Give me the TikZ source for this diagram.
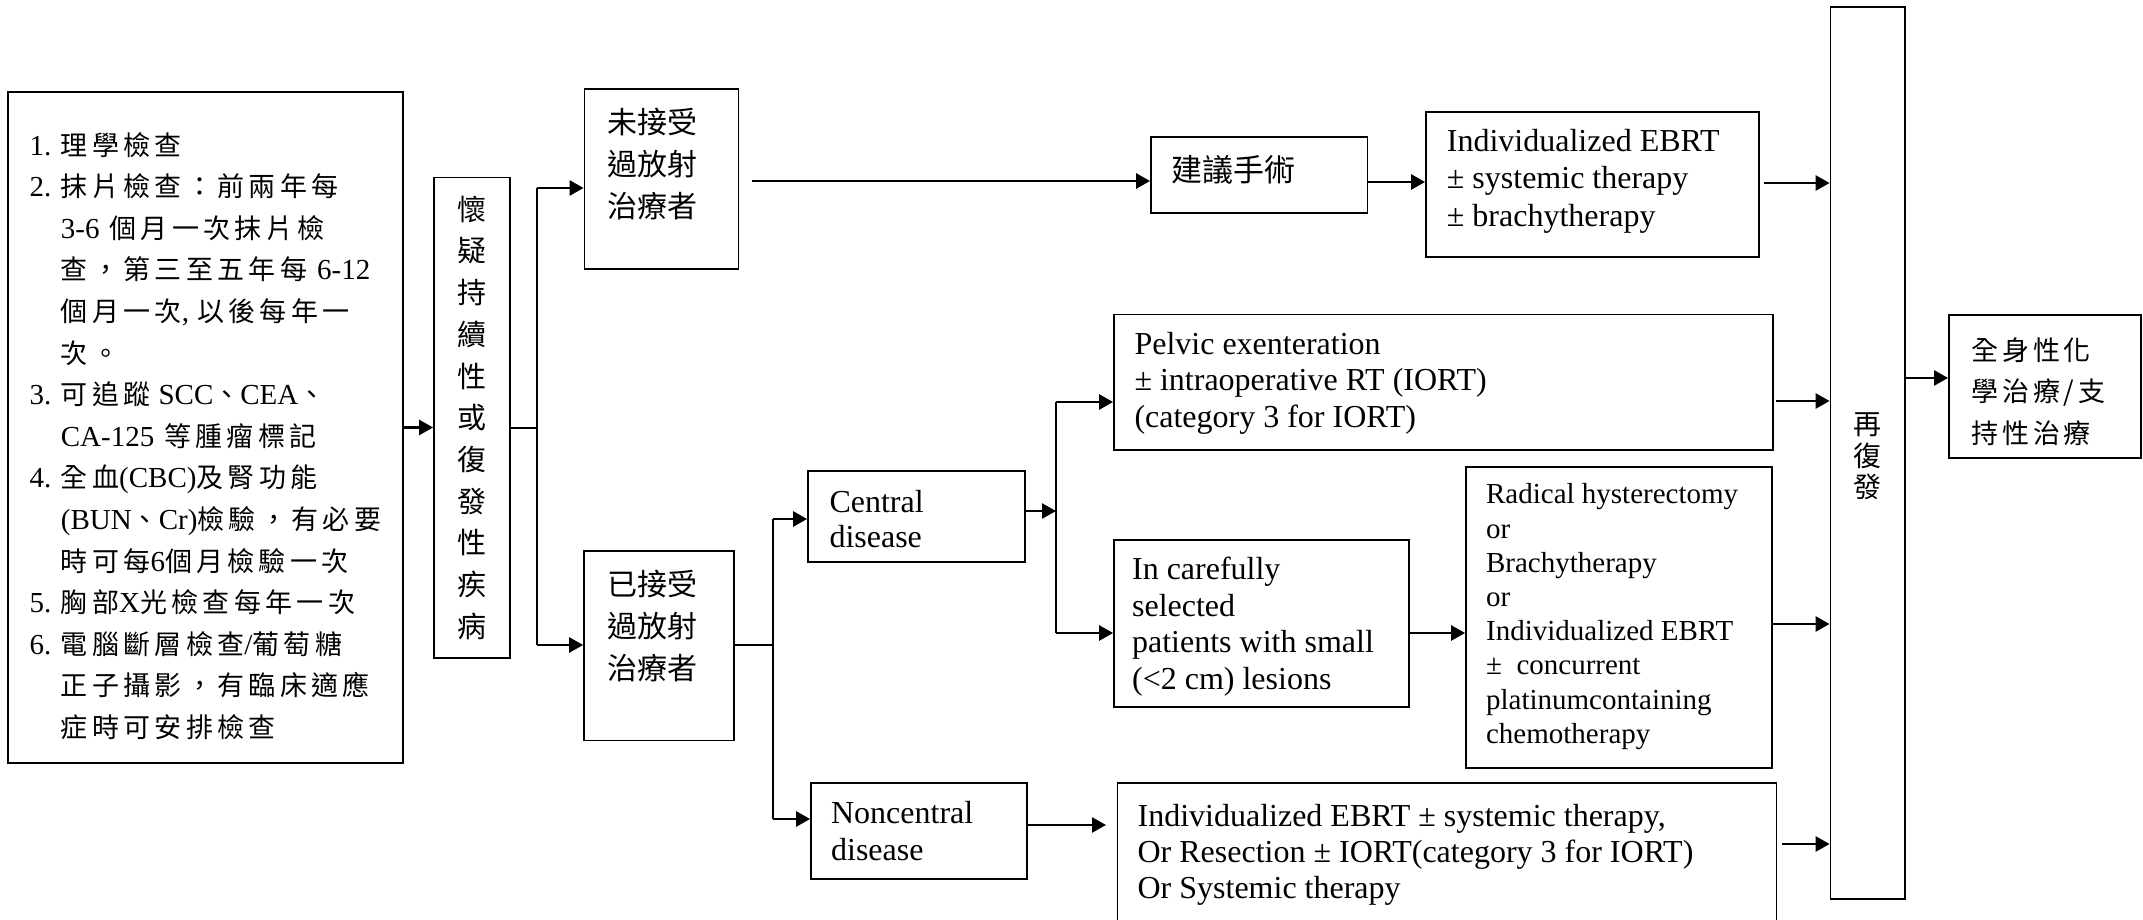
\documentclass[tikz,border=0pt]{standalone}
\usepackage{fontspec}
\setmainfont{Liberation Serif}
\newfontfamily\cjk{Noto Sans CJK TC}
\newfontfamily\cjksp{Noto Sans CJK TC}[LetterSpace=16]
\newfontfamily\cjkspb{Noto Sans CJK TC}[LetterSpace=14]
\usetikzlibrary{arrows.meta}
\newcommand\latn[1]{{\rmfamily\fontsize{14.5}{20.8}\selectfont #1}}
\newcommand\itm[1]{\makebox[15.7pt][l]{\latn{#1}}}
\newcommand\myind{\hspace*{15.7pt}}
\begin{document}
\begin{tikzpicture}[x=0.5pt,y=-0.5pt,
  box/.style={draw, line width=0.9pt, inner sep=0pt},
  txt/.style={inner sep=0pt, align=left, anchor=west},
  arr/.style={line width=1.3pt, -{Triangle[length=7pt,width=7.5pt]}},
  ln/.style={line width=0.7pt},
]
\useasboundingbox (0,0) rectangle (2143,920);
\clip (0,0) rectangle (2143,920);

% boxes
\node[box, minimum width=197.5pt, minimum height=335.5pt] (L) at (205.5,427.5) {};
\node[box, minimum width=38pt, minimum height=240.25pt] (hw) at (472,417.75) {};
\node[box, minimum width=77pt, minimum height=90pt] (un) at (661.5,179) {};
\node[box, minimum width=75pt, minimum height=94.75pt] (tr) at (659,645.75) {};
\node[box, minimum width=108.25pt, minimum height=38pt] (surg) at (1259.25,175) {};
\node[box, minimum width=166.5pt, minimum height=72.5pt] (ebrt) at (1592.5,184.5) {};
\node[box, minimum width=37.25pt, minimum height=446pt] (re) at (1867.75,453) {};
\node[box, minimum width=95.85pt, minimum height=71.35pt] (sys) at (2044.85,386.35) {};
\node[box, minimum width=108.5pt, minimum height=45.5pt] (cen) at (916.5,516.5) {};
\node[box, minimum width=108pt, minimum height=48pt] (nonc) at (919,831) {};
\node[box, minimum width=329.5pt, minimum height=67.75pt] (pel) at (1443.5,382.25) {};
\node[box, minimum width=147.5pt, minimum height=83.5pt] (care) at (1261.5,623.5) {};
\node[box, minimum width=153pt, minimum height=150.5pt] (rad) at (1619,617.5) {};
\node[box, minimum width=329.5pt, minimum height=72pt] (bot) at (1447,855) {};

% texts
\node[txt, font=\cjksp\fontsize{13.5}{20.8}\selectfont] (Lt) at ([xshift=11pt,yshift=-4.25pt]L.west) {%
\itm{1.}理學檢查\\
\itm{2.}抹片檢查：前兩年每\\
\myind\latn{3-6}\hspace{5pt}個月一次抹片檢\\
\myind 查，第三至五年每\hspace{5pt}\latn{6-12}\\
\myind 個月一次\latn{,}\hspace{4pt}以後每年一\\
\myind 次。\\
\itm{3.}可追蹤\hspace{4pt}\latn{SCC}、\latn{CEA}、\\
\myind\latn{CA-125}\hspace{5pt}等腫瘤標記\\
\itm{4.}全血\latn{(CBC)}及腎功能\\
\myind\latn{(BUN}、\latn{Cr)}檢驗，有必要\\
\myind 時可每\latn{6}個月檢驗一次\\
\itm{5.}胸部\latn{X}光檢查每年一次\\
\itm{6.}電腦斷層檢查\latn{/}葡萄糖\\
\myind 正子攝影，有臨床適應\\
\myind 症時可安排檢查};
\node[inner sep=0pt, align=center, font=\cjk\fontsize{14.5}{20.85}\selectfont] (hwt) at (hw.center)
  {懷\\疑\\持\\續\\性\\或\\復\\發\\性\\疾\\病};
\node[txt, anchor=north west, font=\cjk\fontsize{15}{20.9}\selectfont] (unt) at ([xshift=11.5pt,yshift=-10pt]un.north west)
  {未接受\\過放射\\治療者};
\node[txt, anchor=north west, font=\cjk\fontsize{15}{20.9}\selectfont] (trt) at ([xshift=12pt,yshift=-10pt]tr.north west)
  {已接受\\過放射\\治療者};
\node[txt, font=\cjk\fontsize{15.5}{18}\selectfont] (surgt) at ([xshift=10.5pt,yshift=2.5pt]surg.west) {建議手術};
\node[txt, font=\fontsize{16}{18.75}\selectfont] (ebrtt) at ([xshift=10.7pt,yshift=1.75pt]ebrt.west)
  {Individualized EBRT\\± systemic therapy\\± brachytherapy};
\node[inner sep=0pt, align=center, font=\cjk\fontsize{14}{15.75}\selectfont] (ret) at ([yshift=-1.75pt]re.center)
  {再\\復\\發};
\node[txt, font=\cjkspb\fontsize{13.5}{20.7}\selectfont] (syst) at ([xshift=11.5pt,yshift=-2.5pt]sys.west)
  {全身性化\\學治療/支\\持性治療};
\node[txt, font=\fontsize{16}{17.5}\selectfont] (cent) at ([xshift=11pt,yshift=-1.5pt]cen.west)
  {Central\\disease};
\node[txt, font=\fontsize{16}{18.5}\selectfont] (nonct) at ([xshift=10.3pt]nonc.west)
  {Noncentral\\disease};
\node[txt, font=\fontsize{16}{18.3}\selectfont] (pelt) at ([xshift=10.5pt,yshift=-0.5pt]pel.west)
  {Pelvic exenteration\\± intraoperative RT (IORT)\\(category 3 for IORT)};
\node[txt, font=\fontsize{16}{18.3}\selectfont] (caret) at ([xshift=9.3pt,yshift=-1.6pt]care.west)
  {In carefully\\selected\\patients with small\\(<2 cm) lesions};
\node[txt, font=\fontsize{14.5}{17.1}\selectfont] (radt) at ([xshift=10.3pt,yshift=0.4pt]rad.west)
  {Radical hysterectomy\\or\\Brachytherapy\\or\\Individualized EBRT\\±\enspace concurrent\\platinumcontaining\\chemotherapy};
\node[txt, font=\fontsize{16}{18}\selectfont] (bott) at ([xshift=10.3pt]bot.west)
  {Individualized EBRT ± systemic therapy,\\Or Resection ± IORT(category 3 for IORT)\\Or Systemic therapy};

% connectors
\draw[arr] (L.east) -- (L.east -| hw.west);
\coordinate (j1) at (537,428);
\coordinate (j1t) at (537,188);
\coordinate (j1b) at (537,645);
\draw[ln] (hw.east |- j1) -- (j1);
\draw[ln] (j1t) -- (j1b);
\draw[arr] (j1t) -- (j1t -| un.west);
\draw[arr] (j1b) -- (j1b -| tr.west);

\coordinate (s1) at (752,181);
\draw[arr] (s1) -- (s1 -| surg.west);
\coordinate (s2) at ([yshift=-3.5pt]surg.east);
\draw[arr] (s2) -- (s2 -| ebrt.west);
\coordinate (s3) at ([xshift=2pt,yshift=0.75pt]ebrt.east);
\draw[arr] (s3) -- (s3 -| re.west);
\coordinate (s4) at ([yshift=4.2pt]sys.west);
\draw[arr] (s4 -| re.east) -- (s4);

\coordinate (j2) at (773,645);
\coordinate (j2t) at (773,519);
\coordinate (j2b) at (773,819);
\draw[ln] (tr.east |- j2) -- (j2);
\draw[ln] (j2t) -- (j2b);
\draw[arr] (j2t) -- (j2t -| cen.west);
\draw[arr] (j2b) -- (j2b -| nonc.west);

\coordinate (j3) at (1056,511);
\coordinate (j3t) at (1056,402);
\coordinate (j3b) at (1056,633);
\draw[arr] (j3 -| cen.east) -- (j3);
\draw[ln] (j3t) -- (j3b);
\draw[arr] (j3t) -- (j3t -| pel.west);
\draw[arr] (j3b) -- (j3b -| care.west);
\draw[arr] (j3b -| care.east) -- (j3b -| rad.west);

\coordinate (p1) at (1776,401);
\draw[arr] (p1) -- (p1 -| re.west);
\coordinate (r1) at (1772,624);
\draw[arr] (r1 -| rad.east) -- (r1 -| re.west);
\coordinate (n1) at (1106,825);
\draw[arr] (n1 -| nonc.east) -- (n1);
\coordinate (b1) at (1782,844);
\draw[arr] (b1) -- (b1 -| re.west);
\end{tikzpicture}
\end{document}
